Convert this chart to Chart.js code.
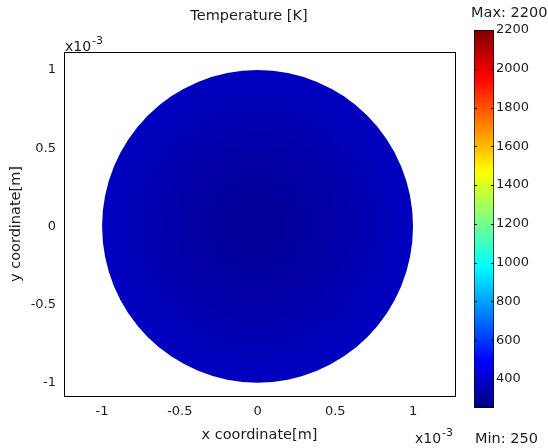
<!DOCTYPE html>
<html>
<head>
<meta charset="utf-8">
<script src="https://cdn.jsdelivr.net/npm/chart.js@4"></script>
<style>
  html, body { margin: 0; padding: 0; background: #fff; }
  #wrap { position: relative; width: 548px; height: 448px; }
  canvas { position: absolute; left: 0; top: 0; }
</style>
</head>
<body>
<div id="wrap">
  <canvas id="field" width="548" height="448"></canvas>
  <canvas id="cbar" width="548" height="448"></canvas>
</div>
<script>
// Radial temperature profile over the disk (radius in units of 1e-3 m, temperature in K)
const radiusPos   = [0, 0.2, 0.4, 0.6, 0.8, 1.0];
const tempProfile = [293, 300, 316, 336, 356, 374];
const diskRadius  = 1.0;

// Colour range of the surface plot
const tempMin = 250;
const tempMax = 2200;

// Tick values
const xTickValues  = [-1, -0.5, 0, 0.5, 1];
const yTickValues  = [-1, -0.5, 0, 0.5, 1];
const cbTickValues = [400, 600, 800, 1000, 1200, 1400, 1600, 1800, 2000, 2200];

const FAMILY = 'DejaVu Sans';
const FONT = { family: FAMILY, size: 13 };
const TITLE_FONT = { family: FAMILY, size: 14.5 };
const TEXT = '#1c1c1c';

// MATLAB-style jet colormap, t in [0,1]
function jet(t) {
  const c = v => Math.max(0, Math.min(1, v));
  const r = c(1.5 - Math.abs(4 * t - 3));
  const g = c(1.5 - Math.abs(4 * t - 2));
  const b = c(1.5 - Math.abs(4 * t - 1));
  return `rgb(${Math.round(r * 255)},${Math.round(g * 255)},${Math.round(b * 255)})`;
}
const tempColor = T => jet((T - tempMin) / (tempMax - tempMin));

const fmt = v => (Math.round(v * 10) / 10).toString();
const setTicks = arr => s => { s.ticks = arr.map(v => ({ value: v })); };

// Draws the temperature field of the disk as a radial gradient using the axis scales
const diskPlugin = {
  id: 'disk',
  beforeDatasetsDraw(chart) {
    const { ctx, chartArea, scales: { x, y } } = chart;
    const cx = x.getPixelForValue(0), cy = y.getPixelForValue(0);
    const rx = x.getPixelForValue(diskRadius) - cx;
    const ry = cy - y.getPixelForValue(diskRadius);
    ctx.save();
    ctx.beginPath();
    ctx.rect(chartArea.left, chartArea.top, chartArea.width, chartArea.height);
    ctx.clip();
    ctx.translate(cx, cy);
    ctx.scale(1, ry / rx);
    const grad = ctx.createRadialGradient(0, 0, 0, 0, 0, rx);
    radiusPos.forEach((r, i) => grad.addColorStop(r / diskRadius, tempColor(tempProfile[i])));
    ctx.fillStyle = grad;
    ctx.beginPath();
    ctx.arc(0, 0, rx, 0, Math.PI * 2);
    ctx.fill();
    ctx.restore();
  },
  afterDraw(chart) {
    const { ctx, chartArea: a } = chart;
    ctx.save();
    ctx.strokeStyle = '#000';
    ctx.lineWidth = 1;
    ctx.strokeRect(Math.round(a.left) + 0.5, Math.round(a.top) + 0.5,
                   Math.round(a.width), Math.round(a.height));
    ctx.fillStyle = TEXT;
    ctx.font = `14.5px ${FAMILY}`;
    ctx.textAlign = 'center';
    ctx.textBaseline = 'alphabetic';
    ctx.fillText('Temperature [K]', 249, 20);
    // exponent labels
    const expLabel = (px, base) => {
      ctx.textAlign = 'left';
      ctx.font = `14px ${FAMILY}`;
      ctx.fillText('x10', px, base);
      const w = ctx.measureText('x10').width;
      ctx.font = `11px ${FAMILY}`;
      ctx.fillText('-3', px + w + 1, base - 7);
    };
    expLabel(65, 51);
    expLabel(415, 443);
    ctx.font = `14.5px ${FAMILY}`;
    ctx.textAlign = 'left';
    ctx.fillText('Max: 2200', 471, 17);
    ctx.fillText('Min: 250', 475, 443);
    ctx.restore();
  }
};

new Chart(document.getElementById('field'), {
  type: 'scatter',
  data: { datasets: [] },
  options: {
    responsive: false,
    animation: false,
    layout: { padding: { left: 0, right: 93, top: 52, bottom: 0 } },
    plugins: { legend: { display: false }, tooltip: { enabled: false } },
    scales: {
      x: {
        type: 'linear', min: -1.245, max: 1.27,
        grid: { display: false, drawTicks: false },
        border: { display: false },
        afterBuildTicks: setTicks(xTickValues),
        afterFit: s => { s.height = 52; },
        ticks: { font: FONT, color: TEXT, padding: 8, callback: fmt, maxRotation: 0 },
        title: { display: true, text: 'x coordinate[m]', font: TITLE_FONT, color: TEXT,
                 padding: { top: 0, bottom: 4 } }
      },
      y: {
        type: 'linear', min: -1.085, max: 1.115,
        grid: { display: false, drawTicks: false },
        border: { display: false },
        afterBuildTicks: setTicks(yTickValues),
        afterFit: s => { s.width = 64; },
        ticks: { font: FONT, color: TEXT, padding: 8, callback: fmt },
        title: { display: true, text: 'y coordinate[m]', font: TITLE_FONT, color: TEXT,
                 padding: { top: 8, bottom: 0 } }
      }
    }
  },
  plugins: [diskPlugin]
});

// Colour bar: a single floating bar spanning the temperature range, filled with the colormap
const cbTickPlugin = {
  id: 'cbTicks',
  afterDatasetsDraw(chart) {
    const { ctx, chartArea: a, scales: { y } } = chart;
    ctx.save();
    ctx.strokeStyle = '#000';
    ctx.lineWidth = 1;
    cbTickValues.forEach(v => {
      const py = Math.round(y.getPixelForValue(v)) + 0.5;
      ctx.beginPath();
      ctx.moveTo(a.left, py); ctx.lineTo(a.left + 3, py);
      ctx.moveTo(a.right - 3, py); ctx.lineTo(a.right, py);
      ctx.stroke();
    });
    ctx.restore();
  }
};

new Chart(document.getElementById('cbar'), {
  type: 'bar',
  data: {
    labels: ['T'],
    datasets: [{
      data: [[tempMin, tempMax]],
      backgroundColor: c => {
        const { chart } = c;
        const y = chart.scales.y;
        if (!chart.chartArea || !y) return tempColor(tempMin);
        const g = chart.ctx.createLinearGradient(0, y.getPixelForValue(tempMin), 0, y.getPixelForValue(tempMax));
        for (let i = 0; i <= 32; i++) g.addColorStop(i / 32, jet(i / 32));
        return g;
      },
      borderColor: '#000',
      borderWidth: 1,
      borderSkipped: false,
      barPercentage: 1,
      categoryPercentage: 1
    }]
  },
  options: {
    responsive: false,
    animation: false,
    layout: { padding: { left: 474, right: 0, top: 30, bottom: 40 } },
    plugins: { legend: { display: false }, tooltip: { enabled: false } },
    scales: {
      x: { display: false },
      y: {
        position: 'right', min: tempMin, max: tempMax,
        grid: { display: false, drawTicks: false },
        border: { display: false },
        afterBuildTicks: setTicks(cbTickValues),
        afterFit: s => { s.width = 54; },
        ticks: { font: FONT, color: TEXT, padding: 2, callback: v => String(v) }
      }
    }
  },
  plugins: [cbTickPlugin]
});
</script>
</body>
</html>
